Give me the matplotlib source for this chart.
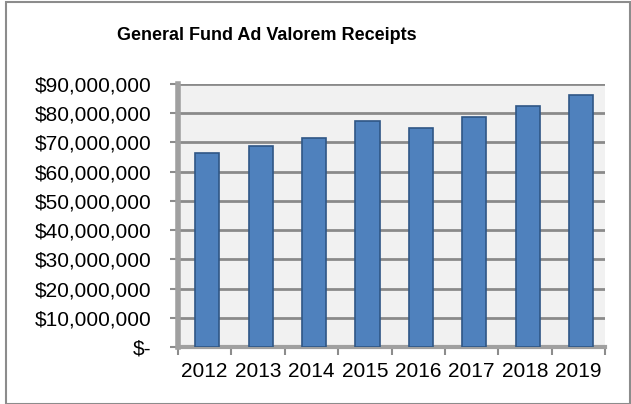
import matplotlib.pyplot as plt
import numpy as np
from matplotlib.patches import Rectangle

years = ["2012", "2013", "2014", "2015", "2016", "2017", "2018", "2019"]
receipts = [66.4e6, 68.9e6, 71.4e6, 77.4e6, 75.1e6, 78.6e6, 82.6e6, 86.2e6]
y_ticks = [0, 10e6, 20e6, 30e6, 40e6, 50e6, 60e6, 70e6, 80e6, 90e6]
y_labels = ["$-"] + ["${:,.0f}".format(v) for v in y_ticks[1:]]

plt.rcParams['font.family'] = ['Liberation Sans', 'DejaVu Sans']

fig = plt.figure(figsize=(6.31, 4.04), dpi=100)
ax = fig.add_axes([0.282, 0.141, 0.677, 0.651])

# frame round the whole chart
fig.patches.append(Rectangle((0.01, 0.0), 0.988, 0.995, transform=fig.transFigure,
                             fill=False, edgecolor='#8c8c8c', linewidth=1.5))

x = np.arange(len(years))
ax.set_facecolor('#f1f1f1')
ax.bar(x + 0.05, receipts, width=0.45, color='#4f81bd', edgecolor='#2f5685', linewidth=1.2, zorder=3)

ax.set_xlim(-0.5, len(years) - 0.5)
ax.set_ylim(0, 90e6)
ax.set_yticks(y_ticks)
ax.set_yticklabels(y_labels)
ax.set_xticks(x)
ax.set_xticklabels(years)
ax.set_xticks(np.arange(-0.5, len(years), 1), minor=True)
ax.tick_params(axis='x', which='major', length=0, labelsize=15, pad=11)
ax.tick_params(axis='x', which='minor', length=6, color='#8c8c8c', width=1.5)
ax.tick_params(axis='y', length=6, color='#8c8c8c', width=1.5, labelsize=15, pad=13)

ax.grid(axis='y', color='#8a8a8a', linewidth=2, zorder=1)
ax.set_axisbelow(True)
for side in ['top', 'right']:
    ax.spines[side].set_visible(False)
ax.spines['left'].set_color('#a0a0a0')
ax.spines['left'].set_linewidth(4)
ax.spines['bottom'].set_color('#a0a0a0')
ax.spines['bottom'].set_linewidth(3)

fig.text(0.423, 0.912, "General Fund Ad Valorem Receipts", ha='center', va='center',
         fontsize=13, fontweight='bold')

fig.savefig("out.png", dpi=100)
